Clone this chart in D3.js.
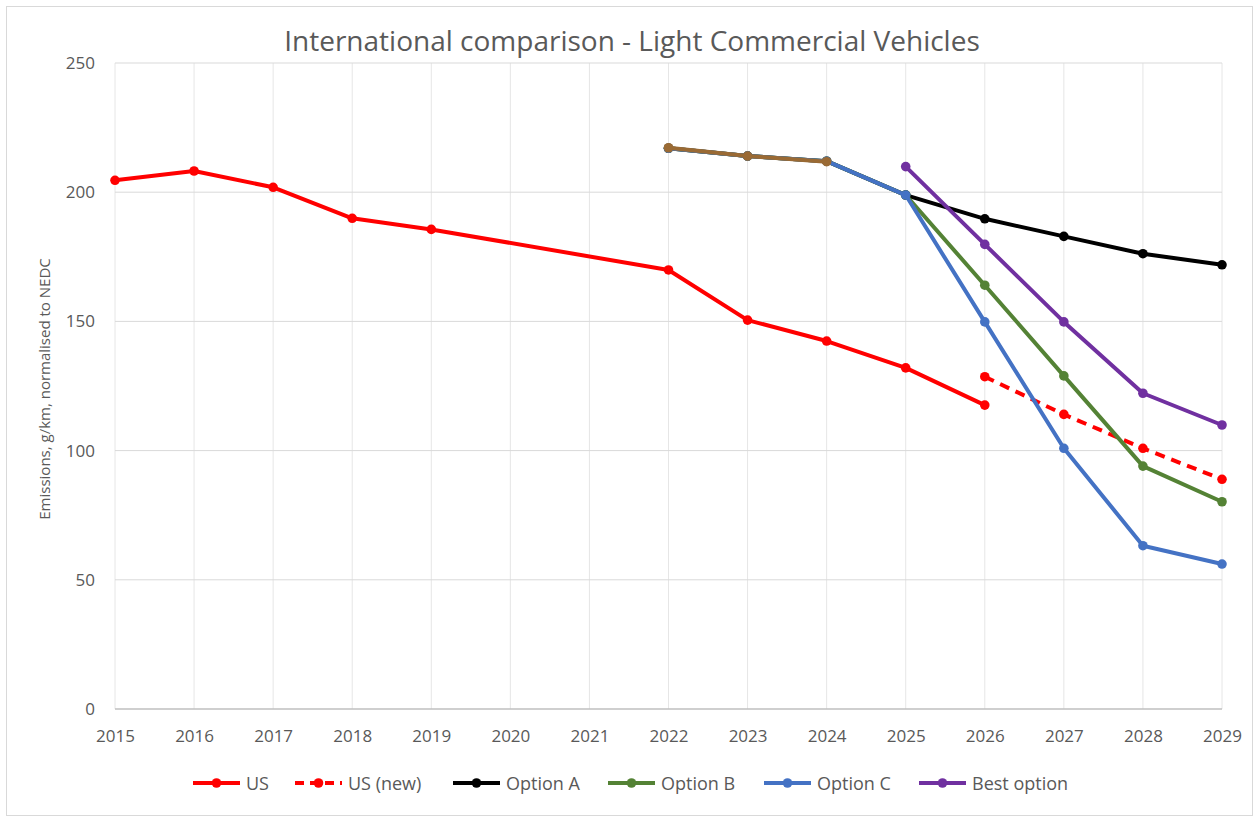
<!DOCTYPE html>
<html>
<head>
<meta charset="utf-8">
<script src="https://cdn.jsdelivr.net/npm/d3@7"></script>
<style>
  body { margin: 0; background: #fff; }
  svg text { font-family: "Open Sans", "Noto Sans", sans-serif; fill: #595959; }
</style>
</head>
<body>
<div id="chart"></div>
<script>
// chart data
const years = [2015, 2016, 2017, 2018, 2019, 2020, 2021, 2022, 2023, 2024, 2025, 2026, 2027, 2028, 2029];
const yTicks = [0, 50, 100, 150, 200, 250];

const usValues      = [204.6, 208.2, 201.9, 189.9, 185.6, null, null, 169.9, 150.5, 142.4, 132.0, 117.6, null, null, null];
const usNewValues   = [null, null, null, null, null, null, null, null, null, null, null, 128.6, 114.0, 100.9, 88.9];
const optionAValues = [null, null, null, null, null, null, null, 217.0, 214.0, 212.0, 198.9, 189.7, 182.9, 176.2, 171.9];
const optionBValues = [null, null, null, null, null, null, null, 217.0, 214.0, 212.0, 198.9, 164.0, 128.9, 94.0, 80.2];
const optionCValues = [null, null, null, null, null, null, null, 217.0, 214.0, 212.0, 198.9, 149.8, 100.9, 63.2, 56.1];
const bestValues    = [null, null, null, null, null, null, null, null, null, null, 209.9, 179.8, 149.8, 122.2, 109.9];
const currentValues = [null, null, null, null, null, null, null, 217.2, 214.0, 211.8, null, null, null, null, null];

const series = [
  { name: 'US', values: usValues, color: '#FF0000', dashed: false, legend: true },
  { name: 'US (new)', values: usNewValues, color: '#FF0000', dashed: true, legend: true },
  { name: 'Option A', values: optionAValues, color: '#000000', dashed: false, legend: true },
  { name: 'Option B', values: optionBValues, color: '#548235', dashed: false, legend: true },
  { name: 'Option C', values: optionCValues, color: '#4472C4', dashed: false, legend: true },
  { name: 'Best option', values: bestValues, color: '#7030A0', dashed: false, legend: true },
  { name: 'Current', values: currentValues, color: '#9A6A34', dashed: false, legend: false }
];

const width = 1259, height = 822;
const margin = { top: 63, right: 37, bottom: 113, left: 115 };

const svg = d3.select('#chart').append('svg')
  .attr('width', width)
  .attr('height', height);

// outer border
svg.append('rect')
  .attr('x', 6.5).attr('y', 6.5)
  .attr('width', width - 13).attr('height', height - 13)
  .attr('fill', '#fff')
  .attr('stroke', '#d9d9d9');

const x = d3.scaleLinear()
  .domain(d3.extent(years))
  .range([margin.left, width - margin.right]);

const y = d3.scaleLinear()
  .domain([0, 250])
  .range([height - margin.bottom, margin.top]);

// gridlines
svg.append('g').selectAll('line.vgrid')
  .data(years)
  .enter().append('line')
  .attr('x1', d => x(d)).attr('x2', d => x(d))
  .attr('y1', y(250)).attr('y2', y(0))
  .attr('stroke', '#e6e6e6').attr('stroke-width', 1);

svg.append('g').selectAll('line.hgrid')
  .data(yTicks)
  .enter().append('line')
  .attr('x1', x(2015)).attr('x2', x(2029))
  .attr('y1', d => y(d)).attr('y2', d => y(d))
  .attr('stroke', d => d === 0 ? '#bfbfbf' : '#d9d9d9')
  .attr('stroke-width', d => d === 0 ? 1.5 : 1);

// axes (labels only)
const xAxis = svg.append('g')
  .attr('transform', `translate(0, ${y(0)})`)
  .call(d3.axisBottom(x).tickValues(years).tickFormat(d3.format('d')).tickSize(0).tickPadding(21));
xAxis.select('.domain').remove();
xAxis.selectAll('text').style('font-size', '17px').style('fill', '#595959');

const yAxis = svg.append('g')
  .attr('transform', `translate(${margin.left}, 0)`)
  .call(d3.axisLeft(y).tickValues(yTicks).tickSize(0).tickPadding(20));
yAxis.select('.domain').remove();
yAxis.selectAll('text').style('font-size', '17px').style('fill', '#595959');

// title
svg.append('text')
  .attr('x', 632)
  .attr('y', 51)
  .attr('text-anchor', 'middle')
  .style('font-size', '28px')
  .text('International comparison - Light Commercial Vehicles');

// y axis title
svg.append('text')
  .attr('transform', `translate(50, ${(y(0) + y(250)) / 2 + 3}) rotate(-90)`)
  .attr('text-anchor', 'middle')
  .style('font-size', '15px')
  .text('Emissions, g/km, normalised to NEDC');

// lines
const line = d3.line()
  .x(d => x(d.year))
  .y(d => y(d.v));

const lineGroup = svg.append('g');
series.forEach(s => {
  const pts = years.map((yr, i) => ({ year: yr, v: s.values[i] })).filter(d => d.v !== null);
  lineGroup.append('path')
    .datum(pts)
    .attr('fill', 'none')
    .attr('stroke', s.color)
    .attr('stroke-width', 4)
    .attr('stroke-linejoin', 'round')
    .attr('stroke-dasharray', s.dashed ? '10,7' : null)
    .attr('d', line);
  lineGroup.selectAll(null)
    .data(pts)
    .enter().append('circle')
    .attr('cx', d => x(d.year))
    .attr('cy', d => y(d.v))
    .attr('r', 4.8)
    .attr('fill', s.color);
});

// legend
const legendItems = series.filter(s => s.legend);
const legendX = [193, 295, 453, 608, 764, 919];
const legend = svg.append('g').attr('transform', 'translate(0, 783)');
legendItems.forEach((s, i) => {
  const g = legend.append('g').attr('transform', `translate(${legendX[i]}, 0)`);
  g.append('line')
    .attr('x1', 0).attr('x2', 47)
    .attr('stroke', s.color)
    .attr('stroke-width', 4)
    .attr('stroke-dasharray', s.dashed ? '9,6' : null);
  g.append('circle').attr('cx', 23.5).attr('r', 4.8).attr('fill', s.color);
  g.append('text')
    .attr('x', 53)
    .attr('y', 6.5)
    .style('font-size', '18px')
    .text(s.name);
});
</script>
</body>
</html>
